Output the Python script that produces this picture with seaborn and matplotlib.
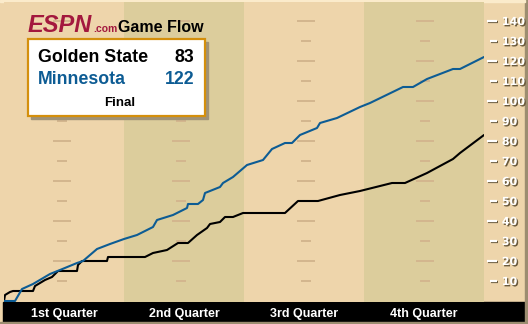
import matplotlib
matplotlib.use("Agg")
import matplotlib.pyplot as plt
import matplotlib.patheffects as pe
from matplotlib.patches import Rectangle
import pandas as pd
import seaborn as sns

# ---------------- data ----------------
teams = ["Golden State", "Minnesota"]
final_scores = [83, 122]
status = "Final"
quarters = ["1st Quarter", "2nd Quarter", "3rd Quarter", "4th Quarter"]
quarter_centers = [6, 18, 30, 42]
major_ticks = [20, 40, 60, 80, 100, 120, 140]
minor_ticks = [10, 30, 50, 70, 90, 110, 130]
guide_x = [5.8, 17.7, 30.2, 42.1]

gsw_minutes = [0, 0.1, 0.6, 0.9, 2.9, 3.1, 4.1, 4.8, 5.4, 7.3, 7.4, 7.8, 10.3, 10.4,
               14.1, 14.9, 16.3, 17.4, 18.4, 19.3, 20.3, 20.6, 21.6, 22.1, 22.9, 23.9,
               28.1, 29.4, 31.4, 33.6, 35.6, 38.8, 40.1, 42.3, 44.9, 45.6, 48.0]
gsw_points = [0, 3, 4.5, 5, 5, 7.5, 10.5, 12, 15, 15, 18, 20, 20, 22,
              22, 24, 25.5, 29, 29, 33, 36.5, 38.5, 39.5, 42, 42, 44,
              44, 50, 50, 53, 55, 59, 59, 64, 71, 74, 83]

min_minutes = [0, 1.1, 1.8, 2.9, 4.6, 5.6, 7.3, 7.9, 9.3, 10.6, 12.0, 13.3, 14.9, 15.3,
               16.9, 18.3, 18.4, 19.4, 19.9, 20.1, 21.6, 21.9, 22.9, 24.3, 25.9, 26.8,
               28.1, 28.8, 29.6, 31.3, 31.6, 33.3, 35.6, 36.6, 39.9, 40.9, 42.3, 44.9,
               45.6, 48.0]
min_points = [0, 0, 6, 8.5, 13.5, 15.5, 19, 20, 26, 28.5, 31, 33, 37, 40.5,
              43, 46.5, 48.5, 48.5, 50.5, 54, 57, 59, 62, 68, 70.5, 76,
              79, 79, 83, 86.5, 89, 91.5, 97, 99, 107, 107, 111, 116,
              116, 122]

# ---------------- style ----------------
LIGHT = "#EED5AB"
DARK = "#DCCD9C"
TAN = "#D3B68E"
BLUE = "#0D5C94"
RED = "#A3183E"
GOLD = "#D48F0C"
SANS = ["Liberation Sans", "DejaVu Sans"]
NARROW = ["Liberation Sans Narrow", "Liberation Sans", "DejaVu Sans"]

sns.set_style("white")
plt.rcParams["font.family"] = SANS

W, H = 528, 324
fig = plt.figure(figsize=(W / 100, H / 100), dpi=100)
fig.patch.set_facecolor(LIGHT)


def fx(x):
    return x / W


def fy(y):
    return 1 - y / H


# frame decorations
fig.patches.append(Rectangle((fx(3), fy(322)), (525 - 3) / W, 20 / H,
                             transform=fig.transFigure, color="black", zorder=-1))
fig.patches.append(Rectangle((fx(525), 0), 3 / W, 1, transform=fig.transFigure,
                             color="#9C8D70", zorder=-1))
fig.patches.append(Rectangle((0, 0), 1, 2 / H, transform=fig.transFigure,
                             color="#9C8D70", zorder=-1))
fig.patches.append(Rectangle((0, fy(2)), fx(525), 2 / H, transform=fig.transFigure,
                             color="#FBEBCB", zorder=-1))

ax = fig.add_axes([fx(4), fy(302), (484 - 4) / W, (302 - 2) / H])
ax.set_facecolor(LIGHT)
ax.set_xlim(0, 48)
ax.set_ylim(-0.5, 149.5)

# quarter bands
for q in range(4):
    ax.axvspan(q * 12, (q + 1) * 12, color=LIGHT if q % 2 == 0 else DARK, lw=0, zorder=0.5)

# faint guide dashes
for gx in guide_x:
    ax.scatter([gx] * len(major_ticks), major_ticks, marker="_", s=150,
               linewidths=1.4, color=TAN, zorder=1.5)
    ax.scatter([gx] * len(minor_ticks), minor_ticks, marker="_", s=50,
               linewidths=1.4, color=TAN, zorder=1.5)

# score lines
df = pd.concat([
    pd.DataFrame({"team": teams[0], "minute": gsw_minutes, "points": gsw_points}),
    pd.DataFrame({"team": teams[1], "minute": min_minutes, "points": min_points}),
])
sns.lineplot(data=df, x="minute", y="points", hue="team",
             palette={teams[0]: "black", teams[1]: BLUE},
             estimator=None, sort=False, legend=False, linewidth=1.5, ax=ax, zorder=3)
ax.set_xlabel("")
ax.set_ylabel("")

for s in ax.spines.values():
    s.set_visible(False)

# right axis
ax.yaxis.tick_right()
ax.spines["right"].set_position(("outward", 13 * 0.72))
ax.set_yticks(major_ticks)
ax.set_yticks(minor_ticks, minor=True)
ax.set_yticklabels([str(v) for v in major_ticks])
ax.set_yticklabels([str(v) for v in minor_ticks], minor=True)
ax.tick_params(axis="y", which="major", direction="in", length=10 * 0.72,
               width=1.6, color="white", pad=3.5, labelsize=8, labelcolor="white")
ax.tick_params(axis="y", which="minor", direction="in", length=7 * 0.72,
               width=1.6, color="white", pad=3.5, labelsize=8, labelcolor="white")
shadow = [pe.withSimplePatchShadow(offset=(1, -1), shadow_rgbFace="#6B5B3E", alpha=1.0)]
for lbl in ax.get_yticklabels() + ax.get_yticklabels(minor=True):
    lbl.set_fontweight("bold")
    lbl.set_family(["DejaVu Sans"])
    lbl.set_path_effects(shadow)
for t in ax.yaxis.get_major_ticks() + ax.yaxis.get_minor_ticks():
    t.tick2line.set_path_effects([pe.SimpleLineShadow(offset=(1, -1), shadow_color="#6B5B3E", alpha=1.0), pe.Normal()])

# quarter labels
ax.set_xticks(quarter_centers)
ax.set_xticklabels(quarters)
ax.tick_params(axis="x", length=0, pad=4, labelsize=9, labelcolor="white")
for lbl in ax.get_xticklabels():
    lbl.set_fontweight("bold")
    lbl.set_family(NARROW)

# logo
fig.text(fx(28), fy(32), "ESPN", fontsize=17, fontweight="bold", style="italic",
         color=RED, va="baseline", zorder=10)
fig.text(fx(93), fy(32), ".com", fontsize=7.5, fontweight="bold", color=RED,
         va="baseline", zorder=10)
fig.text(fx(118), fy(32), "Game Flow", fontsize=11.5, fontweight="bold", color="black",
         va="baseline", zorder=10)

# score box
fig.patches.append(Rectangle((fx(31), fy(119)), (205 - 28) / W, (116 - 39) / H,
                             transform=fig.transFigure, color="#A09276", zorder=8))
fig.patches.append(Rectangle((fx(28), fy(116)), (205 - 28) / W, (116 - 39) / H,
                             transform=fig.transFigure, facecolor="white",
                             edgecolor=GOLD, linewidth=1.6, zorder=9))
fig.text(fx(38), fy(62), teams[0], fontsize=12.8, fontweight="bold", color="black",
         va="baseline", zorder=10)
fig.text(fx(194), fy(62), str(final_scores[0]), fontsize=12.8, fontweight="bold",
         color="black", va="baseline", ha="right", zorder=10)
fig.text(fx(38), fy(84), teams[1], fontsize=12.8, fontweight="bold", color=BLUE,
         va="baseline", zorder=10)
fig.text(fx(194), fy(84), str(final_scores[1]), fontsize=12.8, fontweight="bold",
         color=BLUE, va="baseline", ha="right", zorder=10)
fig.text(fx(120), fy(106), status, fontsize=9.5, fontweight="bold", color="black",
         va="baseline", ha="center", zorder=10)

fig.savefig("out.png", dpi=100, facecolor=fig.get_facecolor())
